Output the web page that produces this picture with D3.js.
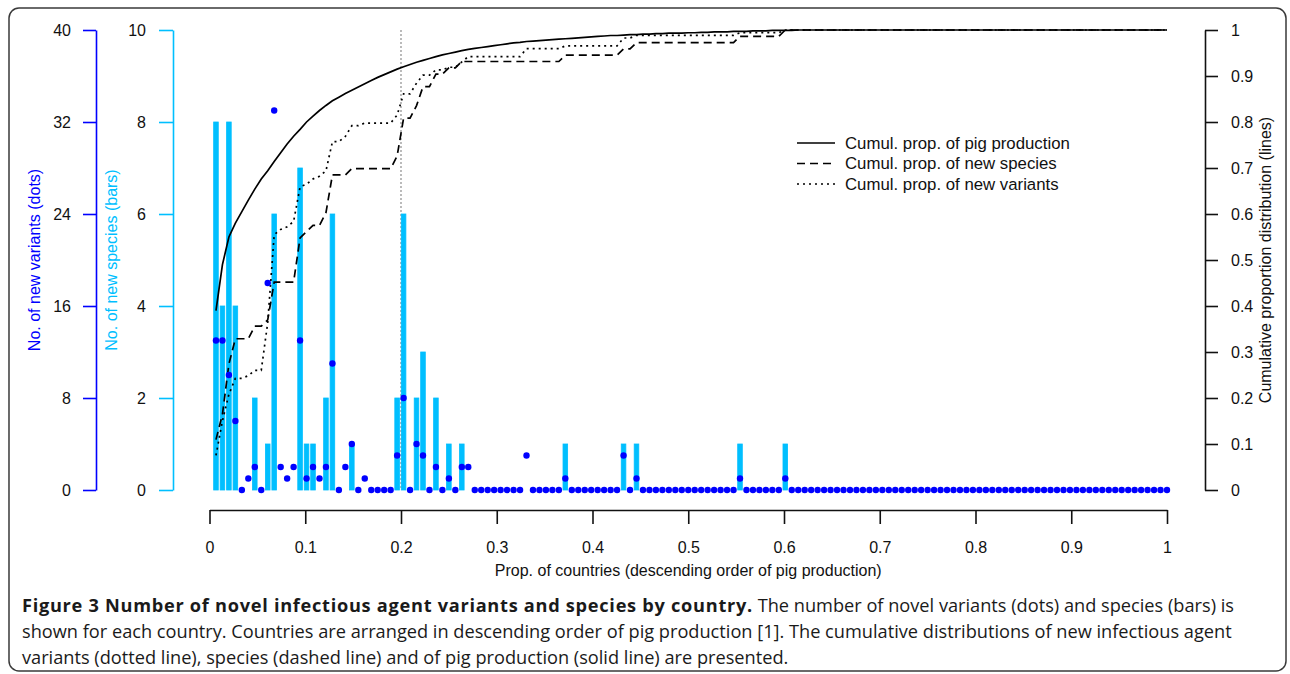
<!DOCTYPE html>
<html>
<head>
<meta charset="utf-8">
<script src="https://cdn.jsdelivr.net/npm/d3@7"></script>
<style>
  body { margin: 0; background: #fff; }
  svg text { font-family: "Liberation Sans", Arial, sans-serif; }
</style>
</head>
<body>
<svg id="chart" width="1290" height="674"></svg>
<script>
// Countries in descending order of pig production
const nCountries = 148;

// No. of new species per country (bars)
const species = [
  8, 4, 8, 4, 0, 0, 2, 0, 1, 6,
  0, 0, 0, 7, 1, 1, 0, 2, 6, 0,
  0, 1, 0, 0, 0, 0, 0, 0, 2, 6,
  0, 2, 3, 0, 2, 0, 1, 0, 1, 0,
  0, 0, 0, 0, 0, 0, 0, 0, 0, 0,
  0, 0, 0, 0, 1, 0, 0, 0, 0, 0,
  0, 0, 0, 1, 0, 1, 0, 0, 0, 0,
  0, 0, 0, 0, 0, 0, 0, 0, 0, 0,
  0, 1, 0, 0, 0, 0, 0, 0, 1, 0,
  0, 0, 0, 0, 0, 0, 0, 0, 0, 0,
  0, 0, 0, 0, 0, 0, 0, 0, 0, 0,
  0, 0, 0, 0, 0, 0, 0, 0, 0, 0,
  0, 0, 0, 0, 0, 0, 0, 0, 0, 0,
  0, 0, 0, 0, 0, 0, 0, 0, 0, 0,
  0, 0, 0, 0, 0, 0, 0, 0
];

// No. of new variants per country (dots)
const variants = [
  13, 13, 10, 6, 0, 1, 2, 0, 18, 33,
  2, 1, 2, 13, 1, 2, 1, 2, 11, 0,
  2, 4, 0, 1, 0, 0, 0, 0, 3, 8,
  0, 4, 3, 0, 2, 0, 1, 0, 2, 2,
  0, 0, 0, 0, 0, 0, 0, 0, 3, 0,
  0, 0, 0, 0, 1, 0, 0, 0, 0, 0,
  0, 0, 0, 3, 0, 1, 0, 0, 0, 0,
  0, 0, 0, 0, 0, 0, 0, 0, 0, 0,
  0, 1, 0, 0, 0, 0, 0, 0, 1, 0,
  0, 0, 0, 0, 0, 0, 0, 0, 0, 0,
  0, 0, 0, 0, 0, 0, 0, 0, 0, 0,
  0, 0, 0, 0, 0, 0, 0, 0, 0, 0,
  0, 0, 0, 0, 0, 0, 0, 0, 0, 0,
  0, 0, 0, 0, 0, 0, 0, 0, 0, 0,
  0, 0, 0, 0, 0, 0, 0, 0
];

// Cumulative proportion of pig production (solid line)
const pigCum = [
  0.39, 0.49, 0.55, 0.58, 0.605, 0.63, 0.654, 0.676, 0.694, 0.714,
  0.733, 0.752, 0.769, 0.784, 0.8, 0.813, 0.825, 0.836, 0.846, 0.854,
  0.862, 0.869, 0.876, 0.883, 0.89, 0.897, 0.903, 0.909, 0.915, 0.92,
  0.925, 0.93, 0.934, 0.938, 0.942, 0.946, 0.949, 0.952, 0.955, 0.958,
  0.96, 0.962, 0.964, 0.966, 0.968, 0.97, 0.972, 0.973, 0.975, 0.976,
  0.977, 0.978, 0.979, 0.98, 0.981, 0.982, 0.983, 0.984, 0.985, 0.986,
  0.987, 0.988, 0.988, 0.989, 0.99, 0.99, 0.991, 0.991, 0.992, 0.992,
  0.993, 0.993, 0.993, 0.994, 0.994, 0.995, 0.995, 0.996, 0.996, 0.996,
  0.997, 0.997, 0.997, 0.998, 0.998, 0.998, 0.999, 0.999, 0.999, 0.999,
  1, 1, 1, 1, 1, 1, 1, 1, 1, 1,
  1, 1, 1, 1, 1, 1, 1, 1, 1, 1,
  1, 1, 1, 1, 1, 1, 1, 1, 1, 1,
  1, 1, 1, 1, 1, 1, 1, 1, 1, 1,
  1, 1, 1, 1, 1, 1, 1, 1, 1, 1,
  1, 1, 1, 1, 1, 1, 1, 1
];

const xTicks = [0, 0.1, 0.2, 0.3, 0.4, 0.5, 0.6, 0.7, 0.8, 0.9, 1];
const variantTicks = [0, 8, 16, 24, 32, 40];
const speciesTicks = [0, 2, 4, 6, 8, 10];
const cumTicks = [0, 0.1, 0.2, 0.3, 0.4, 0.5, 0.6, 0.7, 0.8, 0.9, 1];
const markerX = 0.2;

const legendLabels = ["Cumul. prop. of pig production", "Cumul. prop. of new species", "Cumul. prop. of new variants"];
const legendDash = [null, "8,5", "2,4"];

const captionBold = "Figure 3 Number of novel infectious agent variants and species by country.";
const captionLines = [
  " The number of novel variants (dots) and species (bars) is",
  "shown for each country. Countries are arranged in descending order of pig production [1]. The cumulative distributions of new infectious agent",
  "variants (dotted line), species (dashed line) and of pig production (solid line) are presented."
];

let svg = d3.select("#chart");

let plot = {left: 209.5, right: 1167, top: 30, bottom: 490};

let x_scale = d3.scaleLinear().domain([0, 1]).range([plot.left, plot.right]);
let y_var = d3.scaleLinear().domain([0, 40]).range([plot.bottom, plot.top]);
let y_sp = d3.scaleLinear().domain([0, 10]).range([plot.bottom, plot.top]);
let y_cum = d3.scaleLinear().domain([0, 1]).range([plot.bottom, plot.top]);

// Frame
svg.append("rect")
  .attr("x", 9).attr("y", 8)
  .attr("width", 1277).attr("height", 663)
  .attr("rx", 10)
  .attr("fill", "none")
  .attr("stroke", "#3a3a3a")
  .attr("stroke-width", 1.5);

let rows = d3.range(nCountries).map(i => ({
  x: (i + 1) / nCountries,
  sp: species[i],
  va: variants[i],
  pig: pigCum[i]
}));

let spTotal = d3.sum(species), vaTotal = d3.sum(variants);
let spRun = 0, vaRun = 0;
rows.forEach(d => {
  spRun += d.sp; vaRun += d.va;
  d.spCum = spRun / spTotal;
  d.vaCum = vaRun / vaTotal;
});

function styleAxis(g, color, fontSize) {
  g.select(".domain").attr("stroke", color).attr("stroke-width", 1.6);
  g.selectAll(".tick line").attr("stroke", color).attr("stroke-width", 1.6);
  g.selectAll(".tick text").attr("fill", "#111").style("font-size", fontSize + "px")
    .style("font-family", '"Liberation Sans", Arial, sans-serif');
}

// Left axis: variants
let gVar = svg.append("g")
  .attr("transform", "translate(96,0)")
  .call(d3.axisLeft(y_var).tickValues(variantTicks).tickSize(13).tickSizeOuter(0).tickPadding(12));
styleAxis(gVar, "#0000ff", 16);

svg.append("text")
  .attr("transform", `translate(40, ${(plot.top + plot.bottom) / 2}) rotate(-90)`)
  .attr("text-anchor", "middle")
  .attr("fill", "#0000ff")
  .style("font-size", "16px")
  .text("No. of new variants (dots)");

// Second left axis: species
let gSp = svg.append("g")
  .attr("transform", "translate(173,0)")
  .call(d3.axisLeft(y_sp).tickValues(speciesTicks).tickSize(14).tickSizeOuter(0).tickPadding(13));
styleAxis(gSp, "#00bfff", 16);

svg.append("text")
  .attr("transform", `translate(117, ${(plot.top + plot.bottom) / 2}) rotate(-90)`)
  .attr("text-anchor", "middle")
  .attr("fill", "#00bfff")
  .style("font-size", "16px")
  .text("No. of new species (bars)");

// Right axis: cumulative proportion
let gCum = svg.append("g")
  .attr("transform", "translate(1205,0)")
  .call(d3.axisRight(y_cum).tickValues(cumTicks).tickSize(13).tickSizeOuter(0).tickPadding(13)
    .tickFormat(d3.format("~g")));
styleAxis(gCum, "#111", 16);

svg.append("text")
  .attr("transform", `translate(1271, ${(plot.top + plot.bottom) / 2}) rotate(-90)`)
  .attr("text-anchor", "middle")
  .attr("fill", "#111")
  .style("font-size", "16px")
  .text("Cumulative proportion distribution (lines)");

// X-axis
let gX = svg.append("g")
  .attr("transform", "translate(0,510)")
  .call(d3.axisBottom(x_scale).tickValues(xTicks).tickSize(14).tickSizeOuter(0).tickPadding(18)
    .tickFormat(d3.format("~g")));
styleAxis(gX, "#111", 16);

svg.append("text")
  .attr("x", (plot.left + plot.right) / 2)
  .attr("y", 576)
  .attr("text-anchor", "middle")
  .attr("fill", "#111")
  .style("font-size", "16px")
  .text("Prop. of countries (descending order of pig production)");

// Marker at 0.2
svg.append("line")
  .attr("x1", x_scale(markerX)).attr("x2", x_scale(markerX))
  .attr("y1", plot.top).attr("y2", plot.bottom)
  .attr("stroke", "#aaaaaa")
  .attr("stroke-width", 1.6)
  .attr("stroke-dasharray", "2,2");

// Bars
svg.selectAll(".bar")
  .data(rows)
  .join("rect")
  .attr("class", "bar")
  .attr("x", d => x_scale(d.x) - 2.3)
  .attr("width", 4.6)
  .attr("y", d => y_sp(d.sp))
  .attr("height", d => y_sp(0) - y_sp(d.sp))
  .attr("fill", "#00bfff")
  .attr("stroke", "#00bfff")
  .attr("stroke-width", 0.8);

// Lines
let lineSeries = [
  {key: "pig", dash: null},
  {key: "spCum", dash: "8,5"},
  {key: "vaCum", dash: "2,4"}
];

svg.selectAll(".cum-line")
  .data(lineSeries)
  .join("path")
  .attr("class", "cum-line")
  .attr("d", s => d3.line().x(d => x_scale(d.x)).y(d => y_cum(d[s.key]))(rows))
  .attr("fill", "none")
  .attr("stroke", "#000")
  .attr("stroke-width", 1.7)
  .attr("stroke-dasharray", s => s.dash);

// Dots
svg.selectAll(".dot")
  .data(rows)
  .join("circle")
  .attr("class", "dot")
  .attr("cx", d => x_scale(d.x))
  .attr("cy", d => y_var(d.va))
  .attr("r", 3.2)
  .attr("fill", "#0000ff");

// Legend
let legend = svg.selectAll(".legend")
  .data(legendLabels)
  .join("g")
  .attr("class", "legend")
  .attr("transform", (d, i) => `translate(797, ${143 + i * 20.5})`);

legend.append("line")
  .attr("x1", 0).attr("x2", 38)
  .attr("stroke", "#000")
  .attr("stroke-width", 1.7)
  .attr("stroke-dasharray", (d, i) => legendDash[i]);

legend.append("text")
  .attr("x", 48)
  .attr("dy", "0.35em")
  .attr("fill", "#111")
  .style("font-size", "16.8px")
  .text(d => d);

// Caption
let caption = svg.append("text")
  .attr("fill", "#1a1a1a")
  .style("font-family", '"Open Sans", sans-serif')
  .style("font-size", "18.2px");

let line1 = caption.append("tspan").attr("x", 22).attr("y", 612);
let boldPart = line1.append("tspan").style("font-weight", "bold").text(captionBold);
let restPart = line1.append("tspan").text(captionLines[0]);

caption.append("tspan").attr("x", 22).attr("y", 638).text(captionLines[1]);
caption.append("tspan").attr("x", 22).attr("y", 664).text(captionLines[2]);

// first line runs to the same right edge as the second
let boldLen = boldPart.node().getComputedTextLength();
let restLen = restPart.node().getComputedTextLength();
let extra = Math.max(0, 1212 - restLen - boldLen) / captionBold.length;
boldPart.style("letter-spacing", extra + "px");
</script>
</body>
</html>
